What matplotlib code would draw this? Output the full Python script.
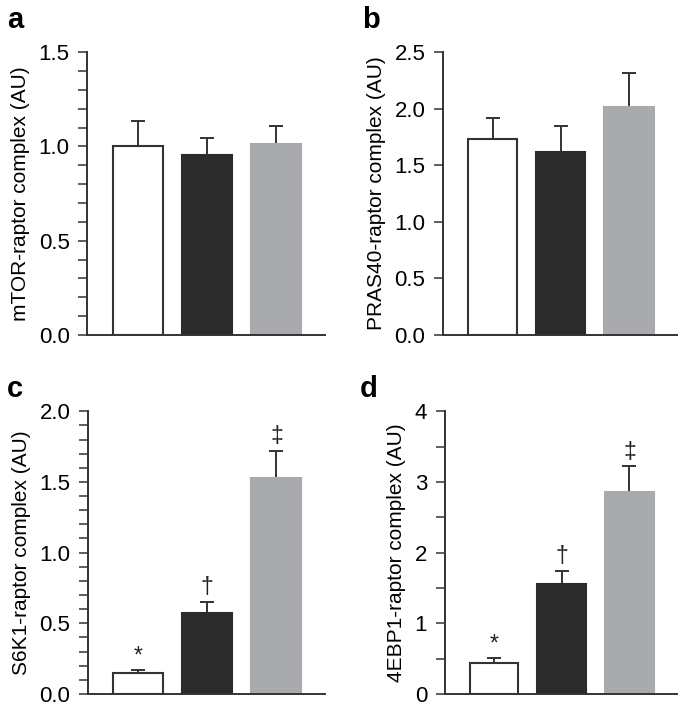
import matplotlib
matplotlib.use("Agg")
import matplotlib.pyplot as plt
from matplotlib.ticker import MultipleLocator, NullLocator

plt.rcParams['font.family'] = ['Liberation Sans', 'DejaVu Sans']

# Datos
grupos = ['blanco', 'negro', 'gris']
colores = ['white', '#2b2b2b', '#a9aaad']

mtor_media = [1.00, 0.952, 1.014]
mtor_error = [0.137, 0.095, 0.095]

pras40_media = [1.733, 1.616, 2.019]
pras40_error = [0.189, 0.227, 0.298]

s6k1_media = [0.149, 0.575, 1.526]
s6k1_error = [0.021, 0.074, 0.196]
s6k1_marcas = ['*', '†', '‡']

ebp1_media = [0.433, 1.562, 2.861]
ebp1_error = [0.075, 0.179, 0.358]
ebp1_marcas = ['*', '†', '‡']

paneles = [
    ('a', 'mTOR-raptor complex (AU)', mtor_media, mtor_error, None,
     1.5, 0.5, 0.1, '%.1f', [0.127, 0.5275, 0.347, 0.399], (7, 28)),
    ('b', 'PRAS40-raptor complex (AU)', pras40_media, pras40_error, None,
     2.5, 0.5, None, '%.1f', [0.6463, 0.5275, 0.3417, 0.399], (362, 28)),
    ('c', 'S6K1-raptor complex (AU)', s6k1_media, s6k1_error, s6k1_marcas,
     2.0, 0.5, 0.1, '%.1f', [0.128, 0.0212, 0.346, 0.3987], (7, 397)),
    ('d', '4EBP1-raptor complex (AU)', ebp1_media, ebp1_error, ebp1_marcas,
     4, 1, 0.5, '%d', [0.649, 0.0212, 0.339, 0.3987], (360, 397)),
]

color_eje = '#333333'
W, H = 685, 709

fig = plt.figure(figsize=(6.85, 7.09), dpi=100)

for letra, etiqueta, medias, errores, marcas, ymax, mayor, menor, fmt, pos, pos_letra in paneles:
    ax = fig.add_axes(pos)
    x = list(range(len(grupos)))
    ax.bar(x, medias, width=0.72, color=colores, edgecolor=[color_eje, colores[1], colores[2]],
           linewidth=1.5, zorder=2)
    ax.errorbar(x, medias, yerr=[[0] * len(errores), errores], fmt='none',
                ecolor=color_eje, elinewidth=1.4, capsize=5, capthick=1.4, zorder=1)
    if marcas:
        for xi, m, e, marca in zip(x, medias, errores, marcas):
            ax.text(xi, m + e + ymax * 0.01, marca, ha='center', va='bottom',
                    fontsize=16.5, color='#222222')
    ax.set_xlim(-0.73, 2.7)
    ax.set_ylim(0, ymax)
    ax.yaxis.set_major_locator(MultipleLocator(mayor))
    if menor:
        ax.yaxis.set_minor_locator(MultipleLocator(menor))
    else:
        ax.yaxis.set_minor_locator(NullLocator())
    ax.yaxis.set_major_formatter(plt.FormatStrFormatter(fmt))
    ax.tick_params(axis='y', which='both', direction='out', length=6.5, width=1.1,
                   color=color_eje, labelsize=16, pad=6)
    ax.tick_params(axis='x', bottom=False, labelbottom=False)
    for lado in ['top', 'right']:
        ax.spines[lado].set_visible(False)
    for lado in ['left', 'bottom']:
        ax.spines[lado].set_color(color_eje)
        ax.spines[lado].set_linewidth(1.4)
    ax.set_ylabel(etiqueta, fontsize=15, labelpad=6)
    fig.text(pos_letra[0] / W, 1 - pos_letra[1] / H, letra, fontsize=21,
             fontweight='bold', va='baseline', ha='left')

fig.savefig('out.png', dpi=100)
